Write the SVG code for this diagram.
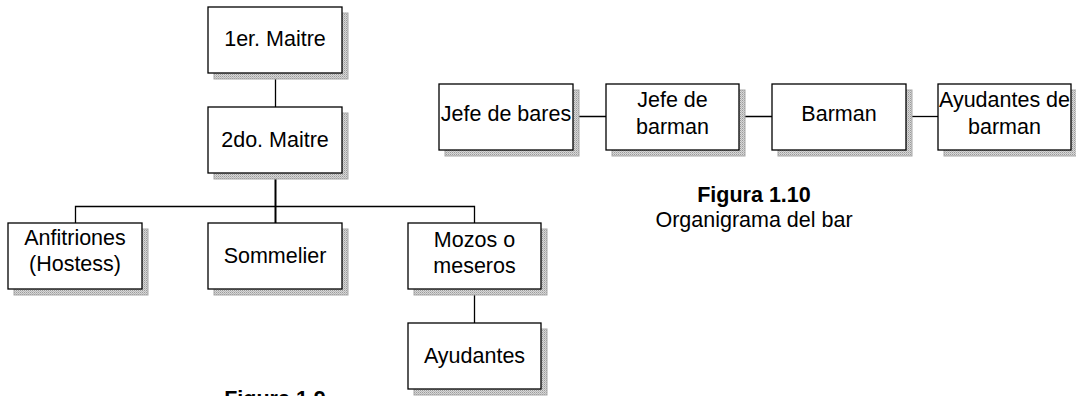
<svg xmlns="http://www.w3.org/2000/svg" width="1076" height="396" viewBox="0 0 1076 396">
  <style>
    .box { fill: #ffffff; stroke: #000000; stroke-width: 1.3; }
    .shadow { fill: url(#stipple); stroke: #a8a8a8; stroke-width: 1; }
    .lbl { font-family: "Liberation Sans", Arial, sans-serif; font-size: 21.5px; fill: #000000; text-anchor: middle; }
    .cap { font-family: "Liberation Sans", Arial, sans-serif; font-size: 21.5px; fill: #000000; text-anchor: middle; }
    .bold { font-weight: bold; }
    .link { fill: none; stroke: #000000; stroke-width: 1.3; }
    .trunk { fill: none; stroke: #000000; stroke-width: 2; }
  </style>
  <defs>
    <!-- fine checker used for the drop shadows -->
    <pattern id="stipple" width="2" height="2" patternUnits="userSpaceOnUse">
      <rect width="2" height="2" fill="#d8d8d8"/>
      <rect width="1" height="1" fill="#9a9a9a"/>
      <rect x="1" y="1" width="1" height="1" fill="#b8b8b8"/>
    </pattern>
  </defs>
  <rect width="1076" height="396" fill="#ffffff"/>

  <!-- connectors -->
  <g id="connectors">
    <line class="link" x1="275.5" y1="73" x2="275.5" y2="107"/>
    <line class="trunk" x1="275.5" y1="173" x2="275.5" y2="223"/>
    <polyline class="link" points="75.5,223 75.5,206.5 474.5,206.5 474.5,223"/>
    <line class="link" x1="474.5" y1="289" x2="474.5" y2="323"/>
    <line class="link" x1="573" y1="116.5" x2="606" y2="116.5"/>
    <line class="link" x1="739" y1="116.5" x2="772" y2="116.5"/>
    <line class="link" x1="906" y1="116.5" x2="938" y2="116.5"/>
  </g>

  <!-- restaurant chart -->
  <g id="maitre1">
    <rect class="shadow" x="214" y="13" width="134" height="66"/>
    <rect class="box" x="208" y="7" width="134" height="66"/>
    <text class="lbl" x="275" y="46">1er. Maitre</text>
  </g>
  <g id="maitre2">
    <rect class="shadow" x="214" y="113" width="134" height="66"/>
    <rect class="box" x="208" y="107" width="134" height="66"/>
    <text class="lbl" x="275" y="147">2do. Maitre</text>
  </g>
  <g id="anfitriones">
    <rect class="shadow" x="14" y="229" width="134" height="66"/>
    <rect class="box" x="8" y="223" width="134" height="66"/>
    <text class="lbl" x="75" y="245">Anfitriones</text>
    <text class="lbl" x="75" y="271">(Hostess)</text>
  </g>
  <g id="sommelier">
    <rect class="shadow" x="214" y="229" width="134" height="66"/>
    <rect class="box" x="208" y="223" width="134" height="66"/>
    <text class="lbl" x="275" y="263">Sommelier</text>
  </g>
  <g id="mozos">
    <rect class="shadow" x="414" y="229" width="133" height="66"/>
    <rect class="box" x="408" y="223" width="133" height="66"/>
    <text class="lbl" x="474.5" y="247">Mozos o</text>
    <text class="lbl" x="474.5" y="273">meseros</text>
  </g>
  <g id="ayudantes">
    <rect class="shadow" x="414" y="329" width="133" height="66"/>
    <rect class="box" x="408" y="323" width="133" height="66"/>
    <text class="lbl" x="474.5" y="363">Ayudantes</text>
  </g>
  <g id="caption-restaurante">
    <text class="cap bold" x="275" y="406">Figura 1.9</text>
  </g>

  <!-- bar chart -->
  <g id="jefe-bares">
    <rect class="shadow" x="445" y="90" width="134" height="66"/>
    <rect class="box" x="439" y="84" width="134" height="66"/>
    <text class="lbl" x="506" y="121">Jefe de bares</text>
  </g>
  <g id="jefe-barman">
    <rect class="shadow" x="612" y="90" width="133" height="66"/>
    <rect class="box" x="606" y="84" width="133" height="66"/>
    <text class="lbl" x="672.5" y="107">Jefe de</text>
    <text class="lbl" x="672.5" y="134">barman</text>
  </g>
  <g id="barman">
    <rect class="shadow" x="778" y="90" width="134" height="66"/>
    <rect class="box" x="772" y="84" width="134" height="66"/>
    <text class="lbl" x="839" y="121">Barman</text>
  </g>
  <g id="ayudantes-barman">
    <rect class="shadow" x="944" y="90" width="133" height="66"/>
    <rect class="box" x="938" y="84" width="133" height="66"/>
    <text class="lbl" x="1004.5" y="107">Ayudantes de</text>
    <text class="lbl" x="1004.5" y="134">barman</text>
  </g>
  <g id="caption-bar">
    <text class="cap bold" x="754" y="202">Figura 1.10</text>
    <text class="cap" x="754" y="227">Organigrama del bar</text>
  </g>
</svg>
